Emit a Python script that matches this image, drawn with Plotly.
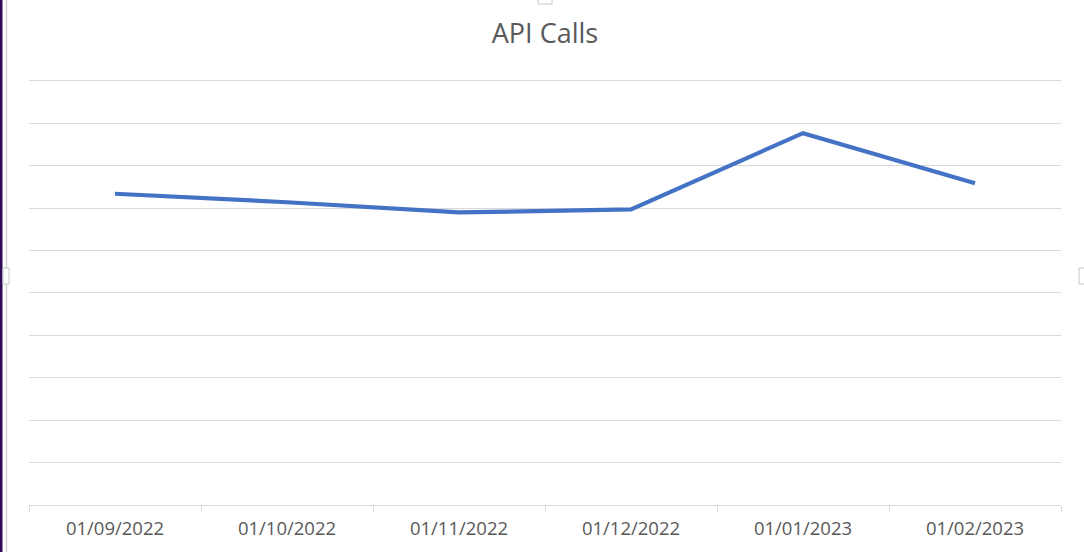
import plotly.graph_objects as go

categories = ["01/09/2022", "01/10/2022", "01/11/2022", "01/12/2022", "01/01/2023", "01/02/2023"]
api_calls = [73.4, 71.4, 69.0, 69.7, 87.7, 75.9]

W, H = 1084, 552
ML, MR, MT, MB = 29, 23, 78, 47
PW, PH = W - ML - MR, H - MT - MB


def px_x(p):
    return (p - ML) / PW


def px_y(p):
    return 1 - (p - MT) / PH


fig = go.Figure()
fig.add_trace(go.Scatter(
    x=categories, y=api_calls, mode="lines",
    line=dict(color="#4472C4", width=4.2),
    hoverinfo="x+y", showlegend=False,
))

shapes = [
    # window frame on the left edge
    dict(type="rect", xref="paper", yref="paper", x0=px_x(0), x1=px_x(2.5),
         y0=px_y(H), y1=px_y(0), fillcolor="#2d0b5a", line=dict(width=0), layer="above"),
    dict(type="line", xref="paper", yref="paper", x0=px_x(6.5), x1=px_x(6.5),
         y0=px_y(H), y1=px_y(0), line=dict(color="#d4d4d4", width=1.5), layer="above"),
    # selection handles
    dict(type="rect", xref="paper", yref="paper", x0=px_x(3), x1=px_x(9),
         y0=px_y(284), y1=px_y(268), fillcolor="white", line=dict(color="#c8c8c8", width=1)),
    dict(type="rect", xref="paper", yref="paper", x0=px_x(1079), x1=px_x(1085),
         y0=px_y(284), y1=px_y(268), fillcolor="white", line=dict(color="#c8c8c8", width=1)),
    dict(type="rect", xref="paper", yref="paper", x0=px_x(538), x1=px_x(552),
         y0=px_y(4), y1=px_y(-3), fillcolor="white", line=dict(color="#c8c8c8", width=1)),
]

fig.update_layout(
    width=W, height=H,
    margin=dict(l=ML, r=MR, t=MT, b=MB),
    paper_bgcolor="white", plot_bgcolor="white",
    title=dict(text="API Calls", x=0.5, xanchor="center", xref="paper",
               y=1 - 34 / H, yref="container", yanchor="middle",
               font=dict(family="Open Sans", size=27, color="#595959")),
    font=dict(family="Open Sans", color="#595959"),
    shapes=shapes,
)
fig.update_xaxes(
    type="category", tickson="boundaries", ticks="outside", ticklen=6,
    tickcolor="#d9d9d9", tickwidth=1, showline=True, linecolor="#d9d9d9", linewidth=1,
    showgrid=False, tickfont=dict(family="Open Sans", size=18.5, color="#595959"),
    ticklabelstandoff=7,
    range=[-0.5, len(categories) - 0.5], fixedrange=True,
)
fig.update_yaxes(
    range=[0, 100.7], dtick=10, tick0=0, showticklabels=False, showgrid=True,
    gridcolor="#d9d9d9", gridwidth=1, zeroline=False, showline=False, ticks="",
    fixedrange=True,
)

fig.write_html(
    "out.html",
    config={"displayModeBar": False},
    post_script="document.body.style.margin='0';document.body.style.padding='0';",
)
